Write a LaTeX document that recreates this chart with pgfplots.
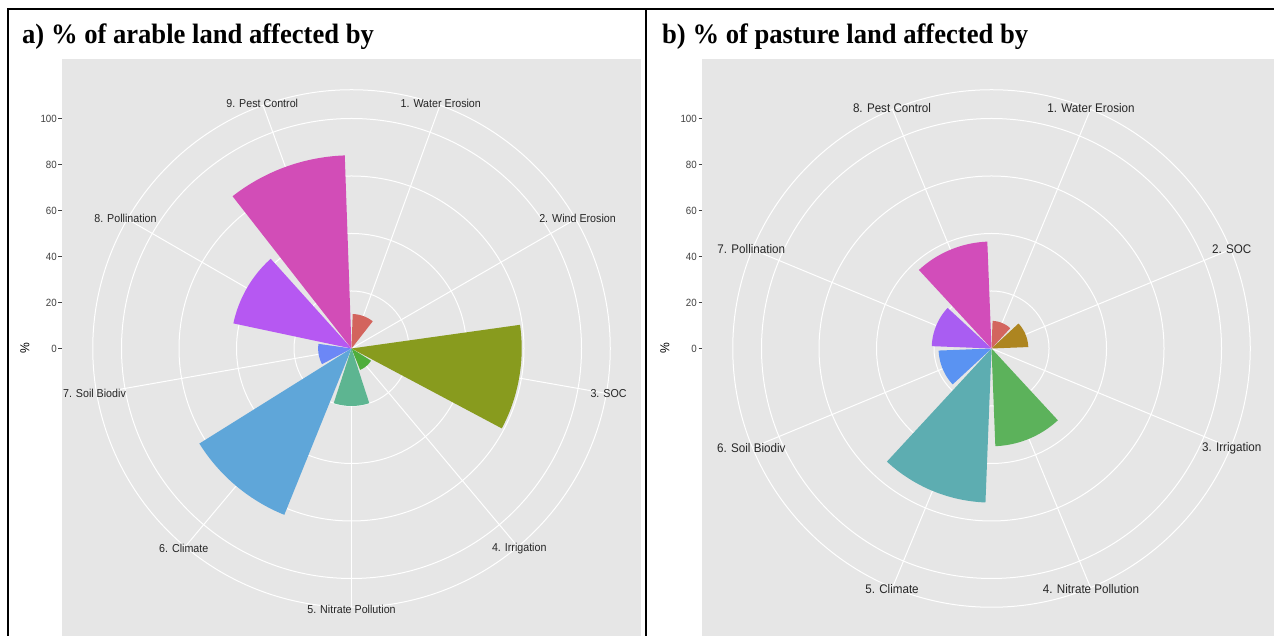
\documentclass[border=0pt]{standalone}
\usepackage{fontspec}
\setmainfont{Liberation Sans}
\newfontfamily\titlefont[FakeStretch=0.95]{Liberation Serif}
\newfontfamily\labfont[FakeStretch=0.93]{Liberation Sans}
\usepackage{pgfplots}
\pgfplotsset{compat=1.18}

\definecolor{panelgray}{HTML}{E6E6E6}
\definecolor{tickgray}{HTML}{404040}
% panel a
\definecolor{aA}{HTML}{D3645D}
\definecolor{aC}{HTML}{889B1E}
\definecolor{aD}{HTML}{4FAE3C}
\definecolor{aE}{HTML}{5DB591}
\definecolor{aF}{HTML}{5FA6D9}
\definecolor{aG}{HTML}{6C87F6}
\definecolor{aH}{HTML}{B658F2}
\definecolor{aI}{HTML}{D24DB7}
% panel b
\definecolor{bA}{HTML}{D3655F}
\definecolor{bB}{HTML}{AD8520}
\definecolor{bD}{HTML}{5CB25B}
\definecolor{bE}{HTML}{5DADB1}
\definecolor{bF}{HTML}{5A93F2}
\definecolor{bG}{HTML}{A95DF2}
\definecolor{bH}{HTML}{D24DBA}

% #1 colour, #2 centre angle (math, deg), #3 half width (deg), #4 value (%)
\newcommand\polarbar[4]{%
  \xdef\pbpts{(0,0)}%
  \foreach \pbi in {0,...,24}{%
    \pgfmathsetmacro\pbA{#2+#3-2*#3*\pbi/24}%
    \xdef\pbpts{\pbpts (\pbA,#4)}%
  }%
  \edef\pbtmp{\noexpand\addplot[fill=#1, draw=none, data cs=polar] coordinates {\pbpts (0,0)};}%
  \pbtmp
}

\tikzset{gridline/.style={white, line width=1.0pt}}
\pgfplotsset{
  panel/.style={
    x=2.3pt, y=2.3pt,
    xmin=-125.87, xmax=125.87, ymin=-125.87, ymax=125.87,
    anchor=center,
    axis background/.style={fill=panelgray},
    axis line style={draw=none},
    xtick=\empty,
    ytick={0,20,40,60,80,100},
    ytick pos=left,
    tick align=outside,
    major tick length=3.5pt,
    major tick style={tickgray, line width=0.8pt},
    /pgf/number format/assume math mode=true,
    yticklabel style={font=\labfont\fontsize{10.5}{12}\selectfont, text=tickgray, inner sep=1.5pt},
    clip=false,
  },
}

\begin{document}
\begin{tikzpicture}
\useasboundingbox (0,0) rectangle (1274pt,636pt);
\clip (0,0) rectangle (1274pt,636pt);

% ---------------- panel a ----------------
\begin{axis}[panel, at={(351.5pt,287.5pt)}]
\pgfplotsinvokeforeach{57.5,115,172.5,230,258.75}{\draw[gridline] (axis cs:0,0) circle[radius=#1pt];}
\pgfplotsinvokeforeach{70,30,-10,-50,-90,-130,-170,-210,-250}{\draw[gridline] (axis cs:0,0) -- ++(#1:258.75pt);}
\polarbar{aA}{70}{18}{15}
% 2. Wind Erosion: 0
\polarbar{aC}{-10}{18}{74}
\polarbar{aD}{-50}{18}{10}
\polarbar{aE}{-90}{18}{25}
\polarbar{aF}{-130}{18}{78}
\polarbar{aG}{-170}{18}{14.5}
\polarbar{aH}{-210}{18}{52.5}
\polarbar{aI}{-250}{18}{84}
\begin{scope}[every node/.style={font=\labfont\fontsize{11.5}{13}\selectfont, text=black!85}]
\path (axis cs:0,0) ++(70:261pt) node {1. Water Erosion};
\path (axis cs:0,0) ++(30:261pt) node {2. Wind Erosion};
\path (axis cs:0,0) ++(-10:261pt) node {3. SOC};
\path (axis cs:0,0) ++(-50:261pt) node {4. Irrigation};
\path (axis cs:0,0) ++(-90:261pt) node {5. Nitrate Pollution};
\path (axis cs:0,0) ++(-130:261pt) node {6. Climate};
\path (axis cs:0,0) ++(-170:261pt) node {7. Soil Biodiv};
\path (axis cs:0,0) ++(-210:261pt) node {8. Pollination};
\path (axis cs:0,0) ++(-250:261pt) node {9. Pest Control};
\end{scope}
\end{axis}

% ---------------- panel b ----------------
\begin{axis}[panel, at={(991.5pt,287.5pt)}]
\pgfplotsinvokeforeach{57.5,115,172.5,230,258.75}{\draw[gridline] (axis cs:0,0) circle[radius=#1pt];}
\pgfplotsinvokeforeach{67.5,22.5,-22.5,-67.5,-112.5,-157.5,-202.5,-247.5}{\draw[gridline] (axis cs:0,0) -- ++(#1:258.75pt);}
\polarbar{bA}{67.5}{20.25}{12}
\polarbar{bB}{22.5}{20.25}{16}
% 3. Irrigation: 0
\polarbar{bD}{-67.5}{20.25}{42.5}
\polarbar{bE}{-112.5}{20.25}{67}
\polarbar{bF}{-157.5}{20.25}{23}
\polarbar{bG}{-202.5}{20.25}{26}
\polarbar{bH}{-247.5}{20.25}{46.5}
\begin{scope}[every node/.style={font=\labfont\fontsize{12.5}{14}\selectfont, text=black!85}]
\path (axis cs:0,0) ++(67.5:260pt) node {1. Water Erosion};
\path (axis cs:0,0) ++(22.5:260pt) node {2. SOC};
\path (axis cs:0,0) ++(-22.5:260pt) node {3. Irrigation};
\path (axis cs:0,0) ++(-67.5:260pt) node {4. Nitrate Pollution};
\path (axis cs:0,0) ++(-112.5:260pt) node {5. Climate};
\path (axis cs:0,0) ++(-157.5:260pt) node {6. Soil Biodiv};
\path (axis cs:0,0) ++(-202.5:260pt) node {7. Pollination};
\path (axis cs:0,0) ++(-247.5:260pt) node {8. Pest Control};
\end{scope}
\end{axis}

% ---------------- axis titles, panel titles and frame ----------------
\node[rotate=90, font=\labfont\fontsize{13}{14}\selectfont] at (25pt,287.5pt) {\%};
\node[rotate=90, font=\labfont\fontsize{13}{14}\selectfont] at (665pt,287.5pt) {\%};
\node[anchor=base west, font=\titlefont\bfseries\fontsize{28}{30}\selectfont, inner sep=0pt] at (22pt,592pt) {a) \% of arable land affected by};
\node[anchor=base west, font=\titlefont\bfseries\fontsize{28}{30}\selectfont, inner sep=0pt] at (662pt,592pt) {b) \% of pasture land affected by};
\draw[line width=2pt] (8pt,-2pt) -- (8pt,626.5pt) -- (1276pt,626.5pt);
\draw[line width=2pt] (646pt,-2pt) -- (646pt,626.5pt);
\end{tikzpicture}
\end{document}
